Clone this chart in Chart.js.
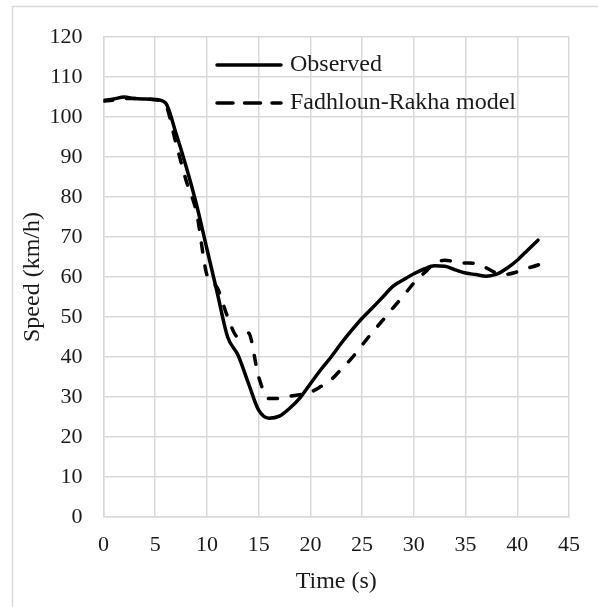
<!DOCTYPE html>
<html>
<head>
<meta charset="utf-8">
<script src="https://cdn.jsdelivr.net/npm/chart.js@4/dist/chart.umd.min.js"></script>
<style>
	html, body { margin: 0; padding: 0; background: #fff; }
	#wrap { width: 598px; height: 607px; position: relative; }
</style>
</head>
<body>
<div id="wrap"><canvas id="chart" width="598" height="607"></canvas></div>
<script>
/* data */
const obsTime = [0, 1, 2, 3, 4, 5, 6, 7, 8, 9, 10, 11, 12, 13, 14, 15, 16, 17, 18, 19, 20, 21, 22, 23, 24, 25, 26, 27, 28, 29, 30, 31, 32, 33, 34, 35, 36, 37, 38, 39, 40, 41, 42]
const obsSpeed = [104.1, 104.5, 105, 104.6, 104.5, 104.4, 103.5, 96, 87.5, 78, 67, 56, 45, 40.5, 33.5, 26.7, 24.7, 25.2, 27.2, 29.8, 33.3, 36.8, 40, 43.5, 46.7, 49.7, 52.3, 55, 57.7, 59.3, 60.8, 62, 62.8, 62.7, 61.8, 61, 60.6, 60.2, 60.7, 62.2, 64.2, 66.7, 69.2]

const modelTime = [0, 1, 2, 3, 4, 5, 6, 7, 8, 9, 10, 11, 12, 13, 14, 15, 16, 17, 18, 19, 20, 21, 22, 23, 24, 25, 26, 27, 28, 29, 30, 31, 32, 33, 34, 35, 36, 37, 38, 39, 40, 41, 42, 43]
const modelSpeed = [104, 104.2, 104.6, 104.6, 104.5, 104.3, 103, 93.5, 84, 76, 60.5, 57.3, 50, 45, 46, 35, 29.6, 29.6, 30.2, 30.6, 31.2, 32.6, 34.3, 37, 39.7, 43, 46.2, 49.2, 52.3, 55.3, 58.5, 61, 63.3, 64.2, 63.8, 63.5, 63.4, 62.3, 61, 60.7, 61.3, 62.2, 63, 64.2]

const seriesNames = ['Observed', 'Fadhloun-Rakha model']
const xTicks = { min: 0, max: 45, step: 5 }
const yTicks = { min: 0, max: 120, step: 10 }

const serif = "'Liberation Serif', 'Times New Roman', serif"
const ink = '#1a1a1a'
const gridColor = '#d9d9d9'

const toPoints = (xs, ys) => xs.map((x, i) => ({ x: x, y: ys[i] }))

// outer frame like the spreadsheet chart area
const framePlugin = {
	id: 'frame',
	beforeDraw(chart) {
		const c = chart.ctx
		c.save()
		c.fillStyle = '#fff'
		c.fillRect(0, 0, chart.width, chart.height)
		c.strokeStyle = gridColor
		c.lineWidth = 1.5
		c.strokeRect(12.5, 6.5, 700, 700)
		c.restore()
	}
}

// legend sits inside the plot, top middle
const insideLegend = {
	id: 'insideLegend',
	afterDraw(chart) {
		const c = chart.ctx
		const rows = [65, 103]
		c.save()
		chart.data.datasets.forEach((ds, i) => {
			const y = rows[i]
			c.beginPath()
			c.strokeStyle = ds.borderColor
			c.lineWidth = ds.borderWidth
			c.lineCap = 'round'
			c.setLineDash(i === 1 ? [16, 11.5] : [])
			c.moveTo(217, y)
			c.lineTo(281, y)
			c.stroke()
			c.setLineDash([])
			c.fillStyle = ink
			c.font = `24px ${serif}`
			c.textBaseline = 'middle'
			c.fillText(ds.label, 290, y)
		})
		c.restore()
	}
}

new Chart('chart', {
	type: 'scatter',
	data: {
		datasets: [
			{
				label: seriesNames[0],
				data: toPoints(obsTime, obsSpeed),
				showLine: true,
				borderColor: '#000',
				borderWidth: 3.5,
				pointRadius: 0,
				cubicInterpolationMode: 'monotone',
				borderCapStyle: 'round'
			},
			{
				label: seriesNames[1],
				data: toPoints(modelTime, modelSpeed),
				showLine: true,
				borderColor: '#000',
				borderWidth: 3.5,
				borderDash: [9, 14],
				borderCapStyle: 'round',
				pointRadius: 0,
				cubicInterpolationMode: 'monotone'
			}
		]
	},
	options: {
		responsive: false,
		animation: false,
		layout: { padding: { left: 12, top: 37, right: 29, bottom: 0 } },
		plugins: {
			legend: { display: false },
			tooltip: { enabled: false }
		},
		scales: {
			x: {
				type: 'linear',
				min: xTicks.min,
				max: xTicks.max,
				afterFit: (s) => { s.height = 90 },
				grid: { color: gridColor, lineWidth: 1.5, drawTicks: false },
				border: { color: gridColor, width: 1.5 },
				ticks: {
					stepSize: xTicks.step,
					padding: 15,
					color: ink,
					font: { family: serif, size: 22 },
					maxRotation: 0
				},
				title: {
					display: true,
					text: 'Time (s)',
					color: ink,
					font: { family: serif, size: 24 },
					padding: { top: 0, bottom: 11 }
				}
			},
			y: {
				min: yTicks.min,
				max: yTicks.max,
				afterFit: (s) => { s.width = 91.5 },
				grid: { color: gridColor, lineWidth: 1.5, drawTicks: false },
				border: { color: gridColor, width: 1.5 },
				ticks: {
					stepSize: yTicks.step,
					padding: 21,
					color: ink,
					font: { family: serif, size: 22 }
				},
				title: {
					display: true,
					text: 'Speed (km/h)',
					color: ink,
					font: { family: serif, size: 24 },
					padding: { top: 6, bottom: 0 }
				}
			}
		}
	},
	plugins: [framePlugin, insideLegend]
})
</script>
</body>
</html>
